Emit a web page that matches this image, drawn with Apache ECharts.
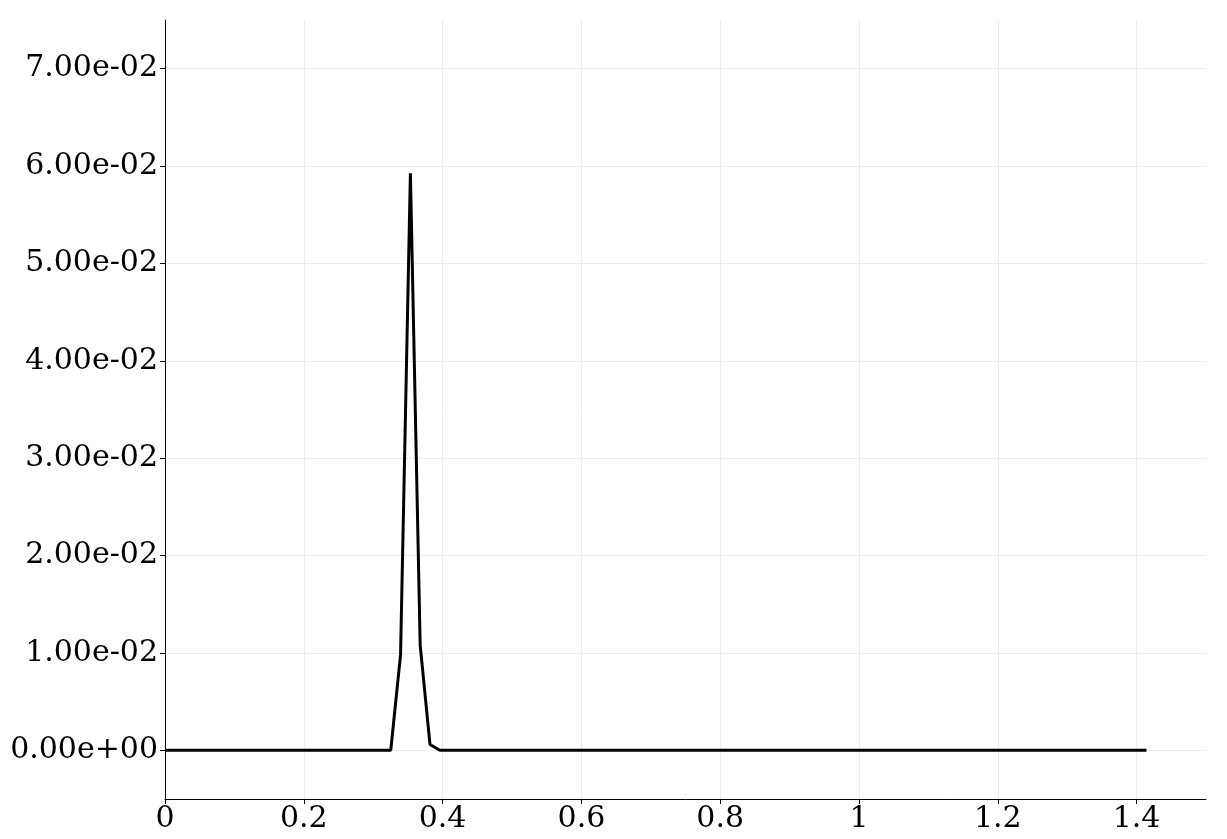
<!DOCTYPE html>
<html>
<head>
<meta charset="utf-8">
<script src="https://cdn.jsdelivr.net/npm/echarts@6/dist/echarts.min.js"></script>
<style>
  html, body { margin: 0; padding: 0; background: #fff; }
  #chart { width: 1227px; height: 839px; }
</style>
</head>
<body>
<div id="chart"></div>
<script>
// 数据点
var xValues = [0, 0.3253, 0.3394, 0.3536, 0.3677, 0.3818, 0.3960, 1.4142]
var yValues = [0, 0, 0.0098, 0.05925, 0.0108, 0.0006, 0, 0]
var xTicks = [0, 0.2, 0.4, 0.6, 0.8, 1, 1.2, 1.4]
var yTicks = [0, 0.01, 0.02, 0.03, 0.04, 0.05, 0.06, 0.07]

// 科学计数法格式 0.00e+00
function sciFormat (v) {
  var s = Number(v).toExponential(2)
  var parts = s.split('e')
  var exp = parseInt(parts[1], 10)
  var sign = exp < 0 ? '-' : '+'
  var abs = Math.abs(exp)
  return parts[0] + 'e' + sign + (abs < 10 ? '0' + abs : abs)
}

var points = xValues.map(function (x, i) { return [x, yValues[i]] })
var fontFamily = '"DejaVu Serif", serif'

var chart = echarts.init(document.getElementById('chart'))
chart.setOption({
  animation: false,
  grid: {
    left: 165,
    right: 21,
    top: 20,
    bottom: 40,
    containLabel: false
  },
  xAxis: {
    type: 'value',
    min: 0,
    max: 1.5,
    axisLine: { show: true, onZero: false, lineStyle: { color: '#000', width: 1 } },
    axisTick: { show: true, length: 5, customValues: xTicks, lineStyle: { color: '#000' } },
    axisLabel: {
      customValues: xTicks,
      color: '#000',
      fontSize: 30,
      fontFamily: fontFamily,
      margin: 5,
      formatter: function (v) { return String(Math.round(v * 10) / 10) }
    },
    splitLine: { show: true, lineStyle: { color: '#ececec', width: 1 } }
  },
  yAxis: {
    type: 'value',
    min: -0.005,
    max: 0.075,
    axisLine: { show: true, onZero: false, lineStyle: { color: '#000', width: 1 } },
    axisTick: { show: true, length: 5, customValues: yTicks, lineStyle: { color: '#000' } },
    axisLabel: {
      customValues: yTicks,
      color: '#000',
      fontSize: 30,
      fontFamily: fontFamily,
      margin: 7,
      formatter: sciFormat
    },
    splitLine: { show: true, lineStyle: { color: '#ececec', width: 1 } }
  },
  series: [{
    type: 'line',
    data: points,
    symbol: 'none',
    smooth: false,
    lineStyle: { color: '#000', width: 3 }
  }]
})
</script>
</body>
</html>
